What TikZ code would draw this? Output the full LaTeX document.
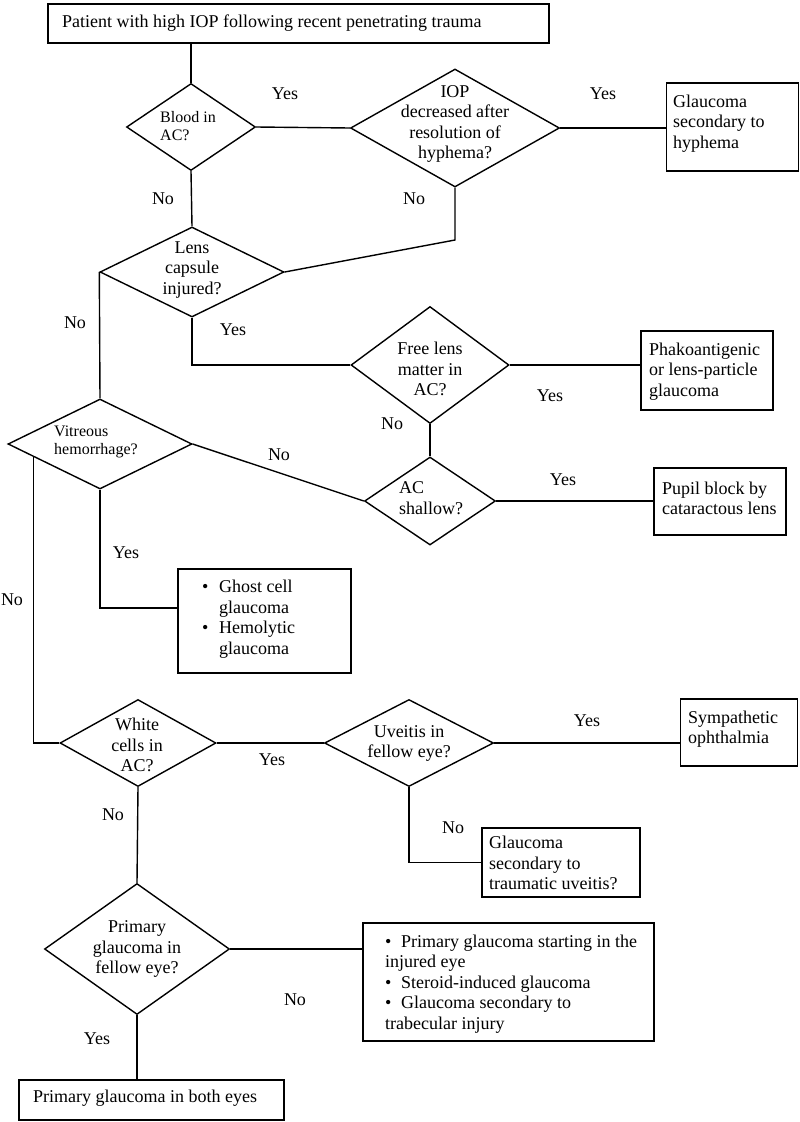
\documentclass[tikz,border=0pt]{standalone}
\usepackage{fontspec}
\setmainfont{Liberation Serif}
\usetikzlibrary{shapes.geometric,calc}
\newcommand\fmain{\fontsize{18}{20.5}\selectfont}
\newcommand\fsmall{\fontsize{16}{18.5}\selectfont}
\tikzset{
  box/.style={draw, rectangle, line width=1.4pt, inner sep=0pt},
  dia/.style={draw, diamond, line width=1.4pt, inner sep=0pt},
  txt/.style={inner sep=0pt, align=left, font=\fmain, anchor=west},
  ctxt/.style={inner sep=0pt, align=center, font=\fmain},
  stxt/.style={inner sep=0pt, align=left, font=\fsmall, anchor=west},
  lab/.style={inner sep=0pt, font=\fmain},
  conn/.style={line width=1.4pt}
}
\begin{document}
\begin{tikzpicture}[x=1pt,y=-1pt]
\useasboundingbox (0,0) rectangle (800,1122);
% boxes
\node[box, minimum width=501pt, minimum height=39pt] (top) at (298.5,23.5) {};
\node[txt] (toptxt) at (62,23) {Patient with high IOP following recent penetrating trauma};
\node[box, minimum width=132pt, minimum height=88pt] (hyph) at (732.5,127) {};
\node[txt] (hyphtxt) at (673,123.5) {Glaucoma\\secondary to\\hyphema};
\node[box, minimum width=132pt, minimum height=79pt] (phako) at (707,370.5) {};
\node[txt] (phakotxt) at (649,371.5) {Phakoantigenic\\or lens-particle\\glaucoma};
\node[box, minimum width=132pt, minimum height=67pt] (pupil) at (720,501.5) {};
\node[txt] (pupiltxt) at (662,498.5) {Pupil block by\\cataractous lens};
\node[box, minimum width=173pt, minimum height=104pt] (ghost) at (264.5,621) {};
\node[txt] (ghosttxt) at (202,619) {\makebox[17pt][l]{\textbullet}Ghost cell\\\makebox[17pt]{}glaucoma\\\makebox[17pt][l]{\textbullet}Hemolytic\\\makebox[17pt]{}glaucoma};
\node[box, minimum width=117pt, minimum height=67pt] (symp) at (739,732.5) {};
\node[txt] (symptxt) at (688,729) {Sympathetic\\ophthalmia};
\node[box, minimum width=158pt, minimum height=69pt] (uvb) at (561,862.5) {};
\node[txt] (uvbtxt) at (489,863) {Glaucoma\\secondary to\\traumatic uveitis?};
\node[box, minimum width=291pt, minimum height=118pt] (big) at (508.5,982) {};
\node[txt] (bigtxt) at (385,984) {\makebox[16pt][l]{\textbullet}Primary glaucoma starting in the\\injured eye\\\makebox[16pt][l]{\textbullet}Steroid-induced glaucoma\\\makebox[16pt][l]{\textbullet}Glaucoma secondary to\\trabecular injury};
\node[box, minimum width=265pt, minimum height=40pt] (bot) at (151.5,1100) {};
\node[txt] (bottxt) at (33,1098) {Primary glaucoma in both eyes};
% diamonds
\node[dia, minimum width=129pt, minimum height=87pt] (blood) at (191,127) {};
\node[stxt] (bloodtxt) at (160,126) {Blood in\\AC?};
\node[dia, minimum width=209pt, minimum height=118pt] (iop) at (455,128) {};
\node[ctxt] (ioptxt) at (455,124) {IOP\\decreased after\\resolution of\\hyphema?};
\node[dia, minimum width=184pt, minimum height=90pt] (lens) at (192,272) {};
\node[ctxt] (lenstxt) at (192,270) {Lens\\capsule\\injured?};
\node[dia, minimum width=158pt, minimum height=117pt] (free) at (430,365) {};
\node[ctxt] (freetxt) at (430,369) {Free lens\\matter in\\AC?};
\node[dia, minimum width=131pt, minimum height=88pt] (acs) at (430,501) {};
\node[txt] (acstxt) at (399,498) {AC\\shallow?};
\node[dia, minimum width=184pt, minimum height=90pt] (vit) at (100,444) {};
\node[stxt] (vittxt) at (54,442) {Vitreous\\hemorrhage?};
\node[dia, minimum width=156pt, minimum height=87pt] (white) at (138,743) {};
\node[ctxt] (whitetxt) at (137,745) {White\\cells in\\AC?};
\node[dia, minimum width=169pt, minimum height=87pt] (uv) at (409,743) {};
\node[ctxt] (uvtxt) at (409,743.5) {Uveitis in\\fellow eye?};
\node[dia, minimum width=185pt, minimum height=131pt] (prim) at (137,949) {};
\node[ctxt] (primtxt) at (137,949) {Primary\\glaucoma in\\fellow eye?};
% helper coordinates
\coordinate (c1) at (455,240);
\coordinate (gh1) at (178,608);
\coordinate (vsplit) at ($(vit.west)!0.283!(vit.south)$);
% connectors
\draw[conn] (blood.north |- top.south) -- (blood.north);
\draw[conn] (blood.east) -- (iop.west);
\draw[conn] (iop.east) -- (iop.east -| hyph.west);
\draw[conn] (blood.south) -- (lens.north);
\draw[conn] (iop.south) -- (c1) -- (lens.east);
\draw[conn] (lens.south) |- (free.west);
\draw[conn] (free.east) -- (free.east -| phako.west);
\draw[conn] (free.south) -- (acs.north);
\draw[conn] (acs.east) -- (acs.east -| pupil.west);
\draw[conn] (lens.west) -- (vit.north);
\draw[conn] (vit.east) -- (acs.west);
\draw[conn] (vit.south) |- (gh1);
\draw[conn] (vsplit) |- (white.west);
\draw[conn] (white.east) -- (uv.west);
\draw[conn] (uv.east) -- (uv.east -| symp.west);
\draw[conn] (uv.south) |- (uvb.west);
\draw[conn] (white.south) -- (prim.north);
\draw[conn] (prim.east) -- (prim.east -| big.west);
\draw[conn] (prim.south) -- (prim.south |- bot.north);
% labels
\node[lab] (l1) at (285,94) {Yes};
\node[lab] (l2) at (603,94) {Yes};
\node[lab] (l3) at (163,199) {No};
\node[lab] (l4) at (414,199) {No};
\node[lab] (l5) at (75,323) {No};
\node[lab] (l6) at (233,330) {Yes};
\node[lab] (l7) at (550,396) {Yes};
\node[lab] (l8) at (392,424) {No};
\node[lab] (l9) at (279,455) {No};
\node[lab] (l10) at (563,480) {Yes};
\node[lab] (l11) at (126,553) {Yes};
\node[lab] (l12) at (12,600) {No};
\node[lab] (l13) at (272,760) {Yes};
\node[lab] (l14) at (587,721) {Yes};
\node[lab] (l15) at (113,815) {No};
\node[lab] (l16) at (453,828) {No};
\node[lab] (l17) at (295,1000) {No};
\node[lab] (l18) at (97,1039) {Yes};
\end{tikzpicture}
\end{document}
